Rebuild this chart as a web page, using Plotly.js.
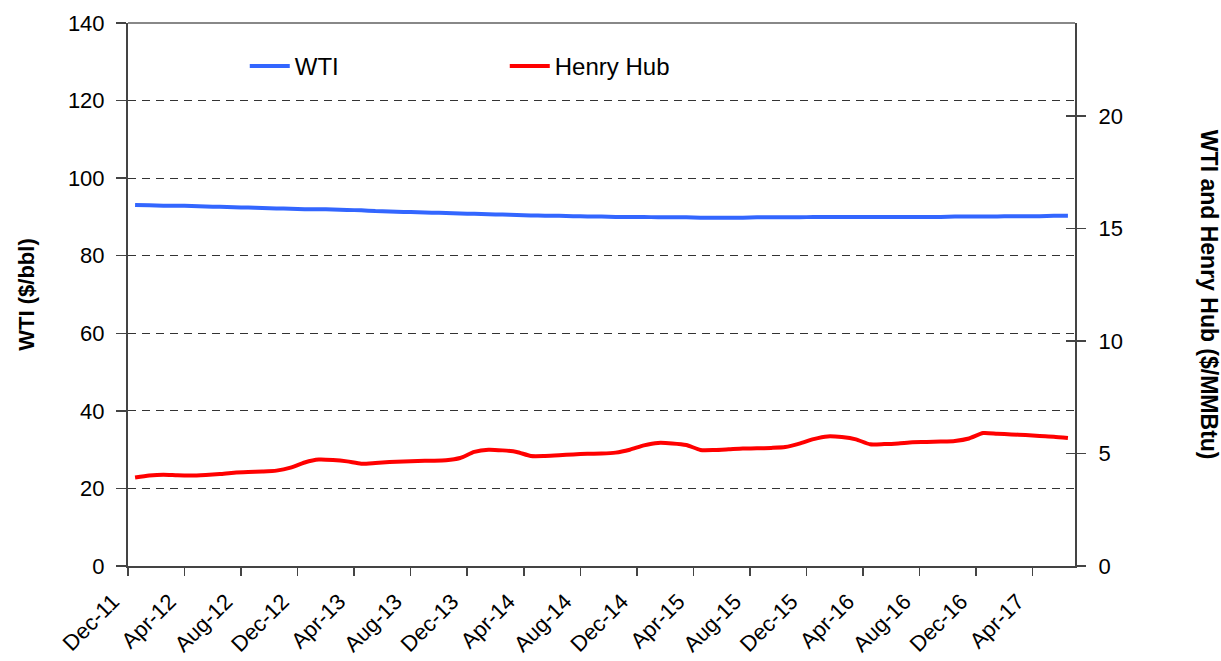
<!DOCTYPE html>
<html>
<head>
<meta charset="utf-8">
<script src="https://cdn.plot.ly/plotly-3.0.1.min.js"></script>
<style>html,body{margin:0;padding:0;background:#fff;}#chart{width:1221px;height:661px;}</style>
</head>
<body>
<div id="chart"></div>
<script>
// Monthly categories Dec-11 .. Jun-17
const months = [
 "Dec-11","Jan-12","Feb-12","Mar-12","Apr-12","May-12","Jun-12","Jul-12","Aug-12","Sep-12","Oct-12","Nov-12",
 "Dec-12","Jan-13","Feb-13","Mar-13","Apr-13","May-13","Jun-13","Jul-13","Aug-13","Sep-13","Oct-13","Nov-13",
 "Dec-13","Jan-14","Feb-14","Mar-14","Apr-14","May-14","Jun-14","Jul-14","Aug-14","Sep-14","Oct-14","Nov-14",
 "Dec-14","Jan-15","Feb-15","Mar-15","Apr-15","May-15","Jun-15","Jul-15","Aug-15","Sep-15","Oct-15","Nov-15",
 "Dec-15","Jan-16","Feb-16","Mar-16","Apr-16","May-16","Jun-16","Jul-16","Aug-16","Sep-16","Oct-16","Nov-16",
 "Dec-16","Jan-17","Feb-17","Mar-17","Apr-17","May-17","Jun-17"
];
// WTI ($/bbl)
const wti = [
 93.1,93.0,92.9,92.9,92.8,92.7,92.6,92.5,92.4,92.3,92.2,92.1,
 92.0,92.0,91.9,91.8,91.7,91.5,91.4,91.3,91.2,91.1,91.0,90.9,
 90.8,90.7,90.6,90.5,90.4,90.3,90.3,90.2,90.1,90.1,90.0,90.0,
 90.0,89.9,89.9,89.9,89.8,89.8,89.8,89.8,89.9,89.9,89.9,89.9,
 90.0,90.0,90.0,90.0,90.0,90.0,90.0,90.0,90.0,90.0,90.1,90.1,
 90.1,90.1,90.2,90.2,90.2,90.3,90.3
];
// Henry Hub ($/MMBtu)
const henryHub = [
 3.93,4.02,4.06,4.03,4.02,4.05,4.09,4.15,4.18,4.20,4.24,4.37,
 4.60,4.73,4.71,4.65,4.55,4.58,4.62,4.65,4.67,4.68,4.70,4.80,
 5.07,5.17,5.14,5.07,4.89,4.89,4.92,4.96,4.99,5.00,5.04,5.17,
 5.36,5.47,5.45,5.38,5.16,5.16,5.19,5.22,5.23,5.25,5.29,5.44,
 5.64,5.76,5.73,5.63,5.41,5.42,5.45,5.50,5.51,5.53,5.56,5.67,
 5.91,5.88,5.85,5.82,5.78,5.75,5.69
];
const tickLabels = ["Dec-11","Apr-12","Aug-12","Dec-12","Apr-13","Aug-13","Dec-13","Apr-14","Aug-14","Dec-14","Apr-15","Aug-15","Dec-15","Apr-16","Aug-16","Dec-16","Apr-17"];
const leftTicks = [0,20,40,60,80,100,120,140];
const rightTicks = [0,5,10,15,20];
const bblPerMMBtu = 5.8;

const idx = months.map((m,i)=>i);
const tickPos = tickLabels.map(t => months.indexOf(t) - 0.5);
const font = "Liberation Sans, Arial, sans-serif";

const traces = [
 {x: idx, y: wti, name: "WTI", type: "scatter", mode: "lines", text: months,
  line: {color: "#3366ff", width: 4, shape: "spline", smoothing: 0.6}, yaxis: "y"},
 {x: idx, y: henryHub, name: "Henry Hub", type: "scatter", mode: "lines", text: months,
  line: {color: "#ff0000", width: 4, shape: "spline", smoothing: 0.6}, yaxis: "y2"},
 {x: [], y: [], yaxis: "y3", showlegend: false, hoverinfo: "skip"}
];

const rMax = 140 / bblPerMMBtu;
const layout = {
 width: 1221, height: 661,
 margin: {l: 128, r: 146, t: 23, b: 95},
 paper_bgcolor: "#fff", plot_bgcolor: "#fff",
 font: {family: font, color: "#000", size: 22},
 showlegend: true,
 legend: {orientation: "h", x: 0.1233, y: 0.92, xanchor: "left", yanchor: "middle",
  font: {family: font, size: 24}, itemwidth: 40, entrywidth: 205, entrywidthmode: "pixels",
  bgcolor: "rgba(0,0,0,0)"},
 xaxis: {range: [-0.5, months.length - 0.5], tickmode: "array", tickvals: tickPos, ticktext: tickLabels,
  tickangle: -45, ticks: "outside", ticklen: 8, tickcolor: "#444", tickwidth: 1.5,
  ticklabelshift: -15, ticklabelstandoff: 4,
  showline: true, linecolor: "#444", linewidth: 2, showgrid: false, zeroline: false,
  tickfont: {family: font, size: 22}},
 yaxis: {range: [0, 140], tickmode: "array", tickvals: leftTicks, ticks: "outside", ticklen: 10,
  tickcolor: "#444", tickwidth: 1.5, showline: true, linecolor: "#444", linewidth: 2,
  ticklabelstandoff: 7,
  showgrid: true, gridcolor: "#333", gridwidth: 1, griddash: "8px,6px", zeroline: false,
  tickfont: {family: font, size: 22},
  title: {text: "<b>WTI ($/bbl)</b>", font: {family: font, size: 22}, standoff: 27}},
 yaxis2: {range: [0, rMax], overlaying: "y", side: "right", tickmode: "array", tickvals: rightTicks,
  ticks: "outside", ticklen: 9, tickcolor: "#444", tickwidth: 1.5, showline: true, linecolor: "#444",
  ticklabelstandoff: 8,
  linewidth: 2, showgrid: false, zeroline: false, tickfont: {family: font, size: 22}},
 yaxis3: {range: [0, rMax], overlaying: "y", side: "right", tickmode: "array", tickvals: rightTicks,
  ticks: "inside", ticklen: 9, tickcolor: "#444", tickwidth: 1.5, showticklabels: false,
  showline: false, showgrid: false, zeroline: false},
 shapes: [{type: "line", xref: "paper", yref: "paper", x0: 0, x1: 1, y0: 1, y1: 1,
  line: {color: "#888", width: 2}}],
 annotations: [{text: "<b>WTI and Henry Hub ($/MMBtu)</b>", xref: "paper", yref: "paper",
  x: 1.158, y: 0.5, showarrow: false, textangle: 90, font: {family: font, size: 23}}]
};

Plotly.newPlot("chart", traces, layout, {displayModeBar: false, staticPlot: true});
</script>
</body>
</html>
